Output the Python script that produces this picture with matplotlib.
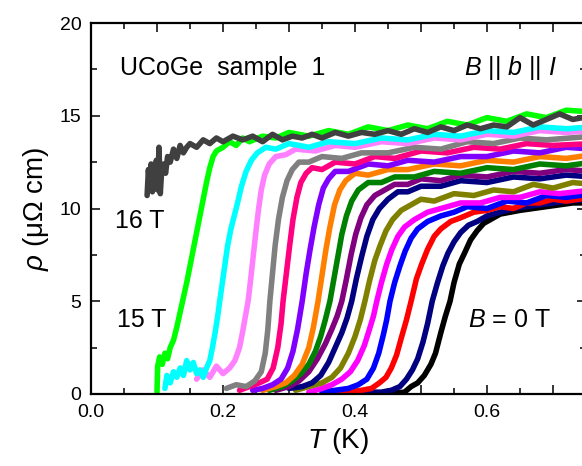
import matplotlib
matplotlib.use("Agg")
import matplotlib.pyplot as plt
from matplotlib.ticker import MultipleLocator

plt.rcParams['font.family'] = ['Liberation Sans', 'DejaVu Sans']
plt.rcParams['mathtext.fontset'] = 'custom'
plt.rcParams['mathtext.rm'] = 'Liberation Sans'
plt.rcParams['mathtext.it'] = 'Liberation Sans:italic'
plt.rcParams['mathtext.bf'] = 'Liberation Sans:bold'

# ---- data: (T [K], rho [uOhm cm]), field in tesla ----
fields = [0, 1, 2, 3, 4, 5, 6, 7, 8, 9, 10, 11, 12, 13, 14, 15, 16]
colors = ['#000000', '#000080', '#FF0000', '#0000FF', '#FF00FF', '#808000',
          '#000080', '#800080', '#008000', '#FF8000', '#8000FF', '#FF0080',
          '#808080', '#FF80FF', '#00FFFF', '#00FF00', '#404040']

rho_0T = [(0.44, 0.0), (0.46, 0.05), (0.475, 0.1), (0.485, 0.4), (0.495, 0.6), (0.505, 1.0),
          (0.515, 1.6), (0.522, 2.2), (0.530, 3.3), (0.537, 4.2), (0.544, 5.0), (0.550, 6.0),
          (0.558, 7.0), (0.566, 7.6), (0.575, 8.3), (0.585, 8.8), (0.595, 9.2), (0.605, 9.4),
          (0.62, 9.7), (0.635, 9.8), (0.65, 9.9), (0.67, 10.0), (0.69, 10.1), (0.71, 10.2),
          (0.73, 10.3), (0.76, 10.3)]
rho_1T = [(0.40, 0.0), (0.42, 0.1), (0.44, 0.1), (0.455, 0.2), (0.468, 0.4), (0.478, 0.8),
          (0.487, 1.3), (0.495, 1.9), (0.503, 2.8), (0.510, 3.8), (0.517, 5.0), (0.525, 6.0),
          (0.533, 6.9), (0.541, 7.6), (0.550, 8.2), (0.560, 8.7), (0.572, 9.1), (0.585, 9.3),
          (0.60, 9.6), (0.62, 9.8), (0.64, 10.0), (0.66, 10.1), (0.68, 10.2), (0.70, 10.3),
          (0.72, 10.4), (0.76, 10.5)]
rho_2T = [(0.37, 0.0), (0.39, 0.1), (0.41, 0.2), (0.425, 0.3), (0.437, 0.6), (0.447, 0.9),
          (0.455, 1.4), (0.463, 2.1), (0.470, 3.0), (0.478, 4.0), (0.485, 5.0), (0.493, 6.2),
          (0.501, 7.0), (0.510, 7.8), (0.520, 8.5), (0.530, 8.9), (0.545, 9.3), (0.56, 9.5),
          (0.58, 9.8), (0.60, 9.9), (0.62, 10.1), (0.64, 10.0), (0.66, 10.3), (0.68, 10.3),
          (0.70, 10.5), (0.72, 10.4), (0.76, 10.6)]
rho_3T = [(0.35, 0.1), (0.37, 0.2), (0.39, 0.3), (0.405, 0.5), (0.418, 0.8), (0.428, 1.4),
          (0.436, 2.2), (0.443, 3.2), (0.448, 4.0), (0.453, 5.0), (0.460, 6.0), (0.468, 6.9),
          (0.476, 7.7), (0.485, 8.4), (0.495, 8.9), (0.51, 9.3), (0.53, 9.6), (0.55, 9.8),
          (0.57, 10.1), (0.60, 10.0), (0.63, 10.4), (0.66, 10.3), (0.69, 10.7), (0.72, 10.6),
          (0.76, 10.8)]
rho_4T = [(0.33, 0.1), (0.35, 0.3), (0.365, 0.5), (0.38, 0.8), (0.393, 1.2), (0.404, 1.8),
          (0.414, 2.6), (0.422, 3.5), (0.428, 4.2), (0.433, 5.0), (0.440, 6.0), (0.448, 7.0),
          (0.456, 7.8), (0.465, 8.5), (0.475, 9.0), (0.49, 9.4), (0.51, 9.8), (0.53, 10.0),
          (0.56, 10.3), (0.59, 10.3), (0.62, 10.6), (0.65, 10.6), (0.68, 10.9), (0.71, 10.8),
          (0.76, 11.0)]
rho_5T = [(0.31, 0.2), (0.33, 0.4), (0.35, 0.6), (0.365, 0.9), (0.378, 1.4), (0.390, 2.2),
          (0.400, 3.1), (0.408, 4.0), (0.415, 5.0), (0.422, 6.1), (0.430, 7.2), (0.438, 8.0),
          (0.447, 8.8), (0.457, 9.4), (0.47, 9.9), (0.485, 10.2), (0.50, 10.5), (0.52, 10.4),
          (0.55, 10.8), (0.58, 10.7), (0.61, 11.0), (0.64, 10.9), (0.67, 11.3), (0.70, 11.1),
          (0.73, 11.4), (0.76, 11.3)]
rho_6T = [(0.30, 0.3), (0.32, 0.4), (0.335, 0.6), (0.348, 1.0), (0.360, 1.7), (0.370, 2.5),
          (0.380, 3.3), (0.388, 4.1), (0.395, 5.0), (0.402, 6.2), (0.410, 7.4), (0.418, 8.5),
          (0.427, 9.4), (0.437, 10.0), (0.45, 10.5), (0.465, 10.9), (0.48, 10.9), (0.50, 11.2),
          (0.53, 11.2), (0.56, 11.5), (0.60, 11.4), (0.64, 11.7), (0.68, 11.6), (0.72, 11.8),
          (0.76, 11.7)]
rho_7T = [(0.28, 0.2), (0.30, 0.4), (0.315, 0.7), (0.330, 1.2), (0.343, 1.9), (0.355, 2.7),
          (0.365, 3.5), (0.373, 4.2), (0.380, 5.0), (0.387, 6.2), (0.394, 7.5), (0.401, 8.6),
          (0.409, 9.5), (0.418, 10.2), (0.43, 10.7), (0.445, 11.0), (0.46, 11.3), (0.48, 11.3),
          (0.50, 11.6), (0.53, 11.5), (0.56, 11.8), (0.60, 11.7), (0.64, 12.0), (0.68, 11.9),
          (0.72, 12.1), (0.76, 12.0)]
rho_8T = [(0.27, 0.2), (0.29, 0.4), (0.305, 0.7), (0.318, 1.1), (0.330, 1.6), (0.340, 2.3),
          (0.348, 3.1), (0.355, 4.0), (0.362, 5.0), (0.368, 6.2), (0.374, 7.4), (0.380, 8.6),
          (0.387, 9.6), (0.395, 10.4), (0.405, 11.0), (0.42, 11.4), (0.44, 11.4), (0.46, 11.7),
          (0.49, 11.7), (0.52, 12.0), (0.56, 11.9), (0.60, 12.2), (0.64, 12.1), (0.68, 12.4),
          (0.72, 12.3), (0.76, 12.5)]
rho_9T = [(0.26, 0.2), (0.28, 0.4), (0.295, 0.6), (0.308, 1.0), (0.320, 1.6), (0.330, 2.5),
          (0.337, 3.6), (0.344, 5.0), (0.350, 6.4), (0.356, 7.8), (0.362, 9.0), (0.369, 10.2),
          (0.377, 11.0), (0.386, 11.5), (0.40, 11.9), (0.42, 11.8), (0.45, 12.1), (0.48, 12.1),
          (0.52, 12.4), (0.56, 12.3), (0.60, 12.6), (0.64, 12.5), (0.68, 12.8), (0.72, 12.7),
          (0.76, 12.9)]
rho_10T = [(0.245, 0.2), (0.26, 0.3), (0.275, 0.5), (0.288, 0.8), (0.298, 1.4), (0.306, 2.3),
           (0.313, 3.5), (0.320, 5.0), (0.326, 6.5), (0.332, 7.8), (0.338, 9.0), (0.345, 10.2),
           (0.352, 11.1), (0.360, 11.6), (0.37, 12.0), (0.39, 12.0), (0.42, 12.4), (0.45, 12.3),
           (0.48, 12.6), (0.52, 12.5), (0.56, 12.8), (0.60, 12.8), (0.64, 13.1), (0.68, 13.0),
           (0.72, 13.3), (0.76, 13.2)]
rho_11T = [(0.225, 0.2), (0.24, 0.4), (0.255, 0.6), (0.267, 0.8), (0.276, 1.4), (0.283, 2.5),
           (0.288, 3.8), (0.291, 5.0), (0.296, 6.5), (0.301, 8.0), (0.306, 9.4), (0.312, 10.6),
           (0.318, 11.4), (0.326, 11.9), (0.335, 12.2), (0.35, 12.1), (0.37, 12.5), (0.40, 12.4),
           (0.43, 12.8), (0.46, 12.7), (0.50, 13.1), (0.54, 13.0), (0.58, 13.3), (0.62, 13.2),
           (0.66, 13.5), (0.70, 13.4), (0.76, 13.5)]
rho_12T = [(0.205, 0.3), (0.22, 0.5), (0.235, 0.4), (0.248, 0.7), (0.258, 1.2), (0.264, 2.2),
           (0.268, 3.5), (0.271, 5.0), (0.275, 6.5), (0.279, 8.0), (0.284, 9.4), (0.290, 10.6),
           (0.297, 11.5), (0.305, 12.1), (0.315, 12.5), (0.33, 12.5), (0.35, 12.8), (0.38, 12.7),
           (0.41, 13.0), (0.45, 13.0), (0.49, 13.3), (0.53, 13.2), (0.57, 13.6), (0.61, 13.5),
           (0.65, 13.8), (0.69, 13.7), (0.76, 13.9)]
rho_13T = [(0.16, 0.8), (0.17, 1.3), (0.18, 0.9), (0.19, 1.5), (0.20, 1.1), (0.21, 1.4),
           (0.218, 1.8), (0.225, 2.5), (0.230, 3.4), (0.234, 4.2), (0.238, 5.0), (0.242, 6.2),
           (0.246, 7.5), (0.250, 8.8), (0.254, 10.0), (0.258, 11.0), (0.263, 11.8), (0.270, 12.4),
           (0.280, 12.8), (0.295, 12.9), (0.31, 13.2), (0.34, 13.1), (0.37, 13.4), (0.40, 13.3),
           (0.44, 13.6), (0.48, 13.5), (0.52, 13.8), (0.56, 13.7), (0.60, 14.0), (0.64, 13.9),
           (0.68, 14.2), (0.72, 14.1), (0.76, 14.2)]
rho_14T = [(0.112, 0.3), (0.115, 1.0), (0.12, 0.6), (0.125, 1.2), (0.13, 0.9), (0.135, 1.4),
           (0.14, 1.0), (0.145, 1.8), (0.15, 1.3), (0.155, 1.7), (0.16, 1.1), (0.165, 1.3),
           (0.170, 0.9), (0.175, 1.4), (0.180, 1.8), (0.184, 2.5), (0.188, 3.3), (0.192, 4.2),
           (0.195, 5.0), (0.199, 6.0), (0.203, 7.0), (0.207, 8.0), (0.212, 8.9), (0.217, 9.6),
           (0.222, 10.3), (0.228, 11.2), (0.235, 12.0), (0.243, 12.6), (0.252, 13.0), (0.265, 13.3),
           (0.28, 13.2), (0.30, 13.5), (0.33, 13.3), (0.36, 13.6), (0.40, 13.5), (0.44, 13.8),
           (0.48, 13.7), (0.52, 14.0), (0.56, 13.9), (0.60, 14.2), (0.64, 14.1), (0.68, 14.4),
           (0.72, 14.3), (0.76, 14.4)]
rho_15T = [(0.100, 0.1), (0.101, 1.5), (0.104, 2.0), (0.108, 1.6), (0.112, 2.2), (0.116, 1.9),
           (0.120, 2.5), (0.125, 2.9), (0.130, 3.6), (0.135, 4.4), (0.140, 5.2), (0.145, 6.0),
           (0.150, 6.9), (0.155, 7.8), (0.160, 8.7), (0.165, 9.6), (0.170, 10.5), (0.175, 11.4),
           (0.180, 12.2), (0.185, 12.8), (0.190, 13.1), (0.20, 13.3), (0.21, 13.6), (0.22, 13.4),
           (0.23, 13.8), (0.24, 13.6), (0.26, 13.9), (0.28, 13.8), (0.30, 14.1), (0.33, 13.9),
           (0.36, 14.2), (0.39, 14.0), (0.42, 14.4), (0.45, 14.2), (0.48, 14.5), (0.51, 14.3),
           (0.54, 14.7), (0.57, 14.5), (0.60, 14.9), (0.63, 14.7), (0.66, 15.1), (0.69, 14.9),
           (0.72, 15.3), (0.76, 15.2)]
rho_16T = [(0.085, 10.7), (0.087, 12.1), (0.089, 11.0), (0.091, 12.4), (0.093, 10.9), (0.095, 12.2),
           (0.097, 11.3), (0.099, 12.6), (0.101, 11.0), (0.103, 13.3), (0.105, 10.8), (0.107, 12.0),
           (0.110, 12.4), (0.113, 11.9), (0.116, 12.8), (0.120, 12.5), (0.125, 13.2), (0.130, 12.7),
           (0.135, 13.4), (0.140, 13.0), (0.145, 13.3), (0.150, 13.5), (0.160, 13.3), (0.170, 13.7),
           (0.180, 13.5), (0.190, 13.8), (0.200, 13.6), (0.215, 13.9), (0.230, 13.7), (0.245, 13.9),
           (0.260, 13.6), (0.275, 14.0), (0.290, 13.7), (0.305, 13.9), (0.320, 13.8), (0.335, 14.0),
           (0.350, 13.8), (0.370, 14.1), (0.390, 13.9), (0.410, 14.1), (0.430, 14.0), (0.450, 14.2),
           (0.470, 14.0), (0.490, 14.3), (0.510, 14.1), (0.530, 14.4), (0.550, 14.2), (0.570, 14.5),
           (0.590, 14.3), (0.610, 14.5), (0.630, 14.4), (0.650, 14.9), (0.670, 14.5), (0.690, 14.8),
           (0.710, 15.1), (0.730, 14.8), (0.760, 15.0)]

curves = [rho_0T, rho_1T, rho_2T, rho_3T, rho_4T, rho_5T, rho_6T, rho_7T, rho_8T,
          rho_9T, rho_10T, rho_11T, rho_12T, rho_13T, rho_14T, rho_15T, rho_16T]

x_major = [0.0, 0.1, 0.2, 0.3, 0.4, 0.5, 0.6, 0.7]
x_labels = ['0.0', '', '0.2', '', '0.4', '', '0.6', '']
y_ticks = [0, 5, 10, 15, 20]

# ---- figure ----
fig = plt.figure(figsize=(5.82, 4.66), dpi=100)
ax = fig.add_axes([91 / 582, 72 / 466, 495 / 582, 371 / 466])

for B, col, data in zip(fields, colors, curves):
    T = [p[0] for p in data]
    r = [p[1] for p in data]
    ax.plot(T, r, color=col, lw=4.0, solid_joinstyle='round', solid_capstyle='round')

ax.set_xlim(0, 0.75)
ax.set_ylim(0, 20)
ax.set_xticks(x_major)
ax.set_xticklabels(x_labels)
ax.xaxis.set_minor_locator(MultipleLocator(0.05))
ax.set_yticks(y_ticks)
ax.set_yticklabels([str(v) for v in y_ticks])
ax.yaxis.set_minor_locator(MultipleLocator(2.5))

ax.tick_params(which='both', direction='in', top=True, right=True, width=1.1, labelsize=14)
ax.tick_params(which='major', length=6.5, pad=7)
ax.tick_params(which='minor', length=4)
for s in ax.spines.values():
    s.set_linewidth(1.6)

ax.set_xlabel(r'$T$ (K)', fontsize=20, labelpad=4)
ax.set_ylabel(r'$\rho$ (μΩ cm)', fontsize=20, labelpad=6)

ax.text(0.044, 17.6, 'UCoGe  sample  1', fontsize=18, va='center', ha='left')
ax.text(0.565, 17.6, r'$B$ || $b$ || $I$', fontsize=18, va='center', ha='left')
ax.text(0.036, 9.3, '16 T', fontsize=18, va='center', ha='left')
ax.text(0.040, 4.0, '15 T', fontsize=18, va='center', ha='left')
ax.text(0.571, 4.0, r'$B$ = 0 T', fontsize=18, va='center', ha='left')

fig.savefig('out.png', dpi=100)
